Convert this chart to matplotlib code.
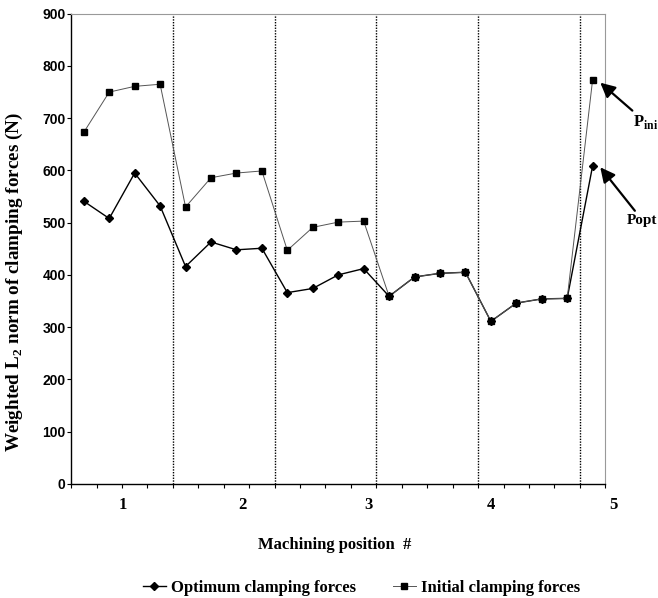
import numpy as np
import matplotlib
matplotlib.use('Agg')
import matplotlib.pyplot as plt
from matplotlib.transforms import blended_transform_factory

# values (N)
optimum = [541, 508, 595, 532, 416, 463, 448, 451, 366, 374, 400, 412,
           359, 396, 403, 405, 311, 346, 354, 355, 609]
initial = [673, 750, 761, 765, 530, 586, 595, 599, 447, 491, 501, 503,
           359, 396, 403, 405, 311, 346, 354, 355, 774]
position_labels = ['1', '2', '3', '4', '5']
label_at = [1.55, 6.25, 11.2, 16.0, 20.8]
separators = [3.5, 7.5, 11.5, 15.5, 19.5]

serif = 'Liberation Serif'
sans = 'Liberation Sans'
plt.rcParams['mathtext.fontset'] = 'custom'
plt.rcParams['mathtext.rm'] = serif
plt.rcParams['mathtext.bf'] = serif + ':bold'

x = np.arange(len(optimum))

fig = plt.figure(figsize=(6.58, 5.98), dpi=100)
ax = fig.add_axes([0.108, 0.191, 0.812, 0.786])

for s in separators:
    ax.axvline(s, color='black', ls=(0, (1, 1)), lw=1.0, zorder=1)

ax.plot(x, optimum, color='black', lw=1.0, marker='D', ms=4.5,
        label='Optimum clamping forces', zorder=3)
ax.plot(x, initial, color='#555555', lw=0.7, marker='s', ms=4.5,
        mfc='black', mec='black', label='Initial clamping forces', zorder=4)

ax.set_xlim(-0.5, 20.5)
ax.set_ylim(0, 900)
ax.set_yticks(np.arange(0, 901, 100))
for lab in ax.get_yticklabels():
    lab.set_fontfamily(sans)
    lab.set_fontweight('bold')
    lab.set_fontsize(10)
ax.tick_params(axis='y', direction='out', length=3, pad=1)
ax.set_xticks(np.arange(-0.5, 20.6, 1.0))
ax.set_xticklabels([])
ax.tick_params(axis='x', direction='out', length=3)

ax.spines['top'].set_color('#999999')
ax.spines['top'].set_linestyle((0, (1, 1)))
ax.spines['right'].set_color('#999999')
ax.spines['right'].set_linestyle((0, (1, 1)))
ax.spines['left'].set_linewidth(1.0)
ax.spines['bottom'].set_linewidth(1.0)

trans = blended_transform_factory(ax.transData, ax.transAxes)
for pos, lab in zip(label_at, position_labels):
    ax.text(pos, -0.045, lab, transform=trans, ha='center', va='center',
            family=serif, weight='bold', fontsize=12, clip_on=False)

ax.set_xlabel('Machining position  #', family=serif, weight='bold', fontsize=12)
ax.xaxis.set_label_coords(0.493, -0.113)
ax.set_ylabel(r'Weighted L$_{\mathbf{2}}$ norm of clamping forces (N)',
              family=serif, weight='bold', fontsize=13.8)
ax.yaxis.set_label_coords(-0.086, 0.43)

arrow = dict(arrowstyle='-|>', color='black', lw=1.6, mutation_scale=22,
             shrinkA=0, shrinkB=0)
ax.annotate(r'P$_{\mathbf{ini}}$', xy=(20.3, 768), xytext=(21.6, 692),
            ha='left', va='center', family=serif, weight='bold', fontsize=12,
            arrowprops=arrow, annotation_clip=False)
ax.annotate('Popt', xy=(20.3, 606), xytext=(21.95, 505),
            ha='center', va='center', family=serif, weight='bold', fontsize=11,
            arrowprops=arrow, annotation_clip=False)

fig.legend(loc='center', bbox_to_anchor=(0.549, 0.017), ncol=2, frameon=False,
           handlelength=1.4, columnspacing=2.2, handletextpad=0.3,
           prop={'family': serif, 'weight': 'bold', 'size': 12})

fig.savefig('out.png', dpi=100)
